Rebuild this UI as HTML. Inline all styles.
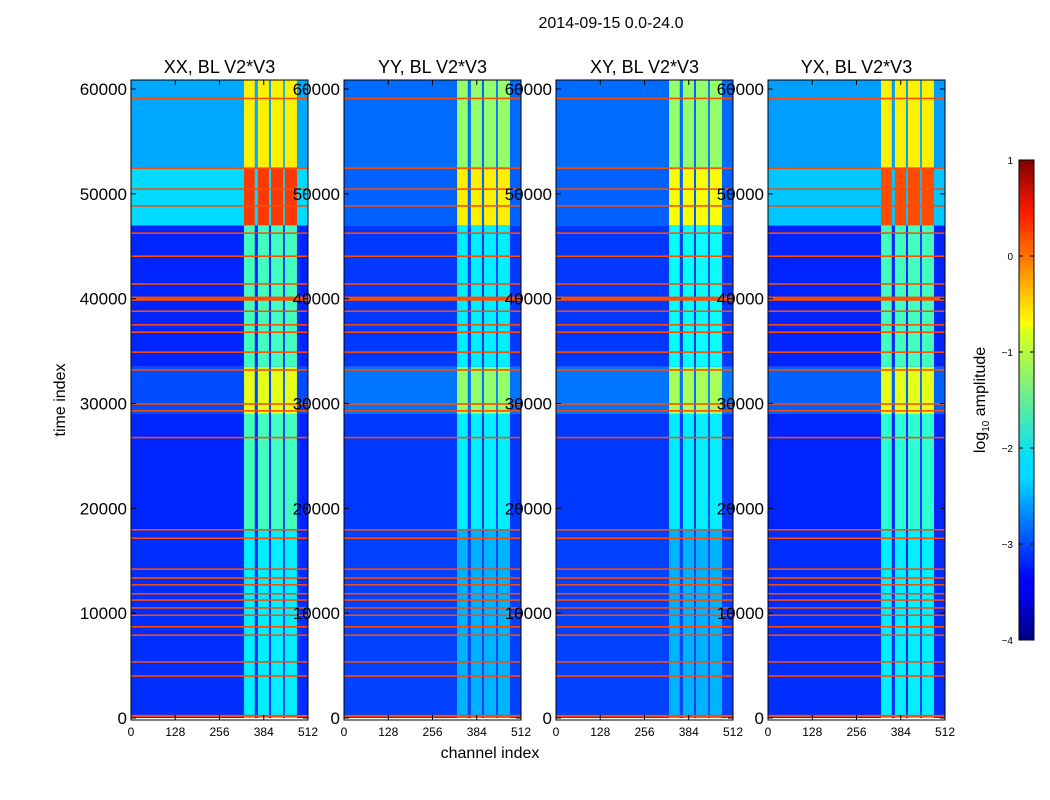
<!DOCTYPE html>
<html><head><meta charset="utf-8">
<style>
body{margin:0;background:#fff;}
svg{display:block;font-family:"Liberation Sans","DejaVu Sans",sans-serif;}
</style></head>
<body>
<svg id="fig" width="1050" height="800" viewBox="0 0 1050 800">
<rect x="0" y="0" width="1050" height="800" fill="#fff"/>
<text x="611" y="28" font-size="16" text-anchor="middle">2014-09-15 0.0-24.0</text>
<text transform="translate(65,400) rotate(-90)" font-size="16" text-anchor="middle">time index</text>
<text x="490" y="758" font-size="16" text-anchor="middle">channel index</text>
<g id="panels"></g>
<defs>
<linearGradient id="jet" x1="0" y1="1" x2="0" y2="0">
<stop offset="0" stop-color="#00007f"/><stop offset="0.11" stop-color="#0000ff"/>
<stop offset="0.125" stop-color="#0000ff"/><stop offset="0.34" stop-color="#00dbff"/>
<stop offset="0.375" stop-color="#0df"/><stop offset="0.64" stop-color="#d8ff1e"/>
<stop offset="0.66" stop-color="#ff0"/><stop offset="0.89" stop-color="#ff1a00"/>
<stop offset="1" stop-color="#800000"/>
</linearGradient>
</defs>
<g>
<rect x="1019" y="160" width="15" height="480" fill="url(#jet)" stroke="#000" stroke-width="1"/>
<g id="cbticks" font-size="10"></g>
<text transform="translate(985,400) rotate(-90)" font-size="16" text-anchor="middle">log<tspan font-size="10" dy="4">10</tspan><tspan dy="-4"> amplitude</tspan></text>
</g>
</svg>
<script>
// ---- data ----
const panelTitles = ['XX, BL V2*V3','YY, BL V2*V3','XY, BL V2*V3','YX, BL V2*V3'];
const yTicks = [0,10000,20000,30000,40000,50000,60000];
const xTicks = [0,128,256,384,512];
const cbTicks = [1,0,-1,-2,-3,-4];
const bandStarts = [327,367,405,445];
const bandEnds = [358,399,440,480];
const segStarts = [0,18000,29000,33500,47000,52500];
const segEnds = [18000,29000,33500,47000,52500,61000];
const bgXX = [-3.15,-3.2,-3.0,-3.2,-2.3,-2.55];
const bandXX = [-2.2,-1.8,-1.0,-1.8,0.1,-0.8];
const bgYY = [-3.05,-3.1,-2.8,-3.1,-2.9,-2.85];
const bandYY = [-2.5,-2.2,-1.4,-2.2,-0.8,-1.4];
const bgXY = [-3.05,-3.1,-2.8,-3.1,-2.9,-2.85];
const bandXY = [-2.5,-2.2,-1.3,-2.1,-0.9,-1.4];
const bgYX = [-3.15,-3.2,-2.9,-3.2,-2.4,-2.6];
const bandYX = [-2.2,-1.9,-1.0,-1.8,0.0,-0.8];
const rfiTimes = [200,4000,5350,7900,8700,9800,10500,11250,11850,12700,13350,14200,17150,17950,26750,29300,29950,33200,34900,36800,37500,38800,40000,41400,44050,46250,48850,50450,52450,59100];
const rfiWidths = [200,150,150,150,150,150,150,150,150,150,150,150,150,150,150,150,150,150,150,150,150,150,400,150,150,150,150,150,150,120];
const rfiLevel = 0.0;

const panelBg = [bgXX,bgYY,bgXY,bgYX];
const panelBand = [bandXX,bandYY,bandXY,bandYX];
const panelX = [131,344,556,768];
const PW = 177, Y0 = 718, TOP = 80;
const tScale = 629/60000;
function ty(t){return Y0 - t*tScale;}
function jet(v){
  const x = (v+4)/5;
  const c = a => Math.max(0,Math.min(1,a));
  const r=c(1.5-Math.abs(4*x-3)), g=c(1.5-Math.abs(4*x-2)), b=c(1.5-Math.abs(4*x-1));
  return `rgb(${Math.round(r*255)},${Math.round(g*255)},${Math.round(b*255)})`;
}
const NS='http://www.w3.org/2000/svg';
function mk(tag,attrs,parent){const e=document.createElementNS(NS,tag);for(const k in attrs)e.setAttribute(k,attrs[k]);parent.appendChild(e);return e;}
const root=document.getElementById('panels');
panelTitles.forEach((title,p)=>{
  const px=panelX[p];
  const xs = ch => px + ch/512*PW;
  const g=mk('g',{},root);
  
  
  const clipId='clip'+p;
  const cp=mk('clipPath',{id:clipId},g);
  mk('rect',{x:px,y:TOP,width:PW,height:Y0+2-TOP},cp);
  const hm=mk('g',{'clip-path':`url(#${clipId})`},g);
  
  
  segStarts.forEach((t0,s)=>{
    const t1=segEnds[s];
    const top=ty(t1), h=ty(t0)-ty(t1);
    const r=mk('rect',{x:px,y:top,width:PW,height:h,fill:jet(panelBg[p][s])},hm);
    
    
    bandStarts.forEach((c0,b)=>{
      const br=mk('rect',{x:xs(c0),y:top,width:xs(bandEnds[b])-xs(c0),height:h,fill:jet(panelBand[p][s])},hm);
      
      
    });
  });
  rfiTimes.forEach((t,i)=>{
    const w=Math.max(1.5,rfiWidths[i]*tScale);
    const l=mk('rect',{x:px,y:ty(t)-w/2,width:PW,height:w,fill:jet(rfiLevel)},hm);
    
    
  });
  const fr=mk('rect',{x:px,y:TOP,width:PW,height:Y0+2-TOP,fill:'none',stroke:'#000','stroke-width':1},g);
  
  
  const tt=mk('text',{x:px+PW/2,y:73,'font-size':18,'text-anchor':'middle'},g);
  tt.textContent=title;
  
  
  yTicks.forEach(v=>{
    const y=ty(v);
    mk('line',{x1:px,x2:px+5,y1:y,y2:y,stroke:'#000'},g);
    mk('line',{x1:px+PW-5,x2:px+PW,y1:y,y2:y,stroke:'#000'},g);
    const l=mk('text',{x:px-4,y:y+6,'font-size':17,'text-anchor':'end'},g);
    l.textContent=v;
    
    
  });
  xTicks.forEach(v=>{
    const x=xs(v);
    mk('line',{x1:x,x2:x,y1:Y0+2,y2:Y0-3,stroke:'#000'},g);
    mk('line',{x1:x,x2:x,y1:TOP,y2:TOP+5,stroke:'#000'},g);
    const l=mk('text',{x:x,y:736,'font-size':12,'text-anchor':'middle'},g);
    l.textContent=v;
    
    
  });
});
const cbg=document.getElementById('cbticks');
cbTicks.forEach(v=>{
  const y=160+(1-v)*96;
  mk('line',{x1:1019,x2:1023,y1:y,y2:y,stroke:'#000'},cbg);
  mk('line',{x1:1030,x2:1034,y1:y,y2:y,stroke:'#000'},cbg);
  const l=mk('text',{x:1013,y:y+4,'text-anchor':'end','font-size':10},cbg);
  l.textContent=(v<0?'\u2212'+(-v):v);
  
  
});
</script>
</body></html>
